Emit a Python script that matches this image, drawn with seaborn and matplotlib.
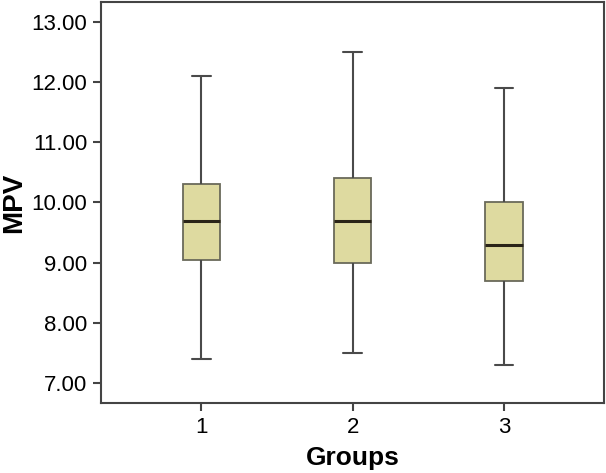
import matplotlib
matplotlib.use("Agg")
import matplotlib.pyplot as plt
import seaborn as sns
import pandas as pd

groups = ["1", "2", "3"]
g1 = [7.4, 9.05, 9.7, 10.3, 12.1]
g2 = [7.5, 9.0, 9.7, 10.4, 12.5]
g3 = [7.3, 8.7, 9.3, 10.0, 11.9]
yticks = [7, 8, 9, 10, 11, 12, 13]

df = pd.DataFrame({
    "Groups": [groups[0]] * len(g1) + [groups[1]] * len(g2) + [groups[2]] * len(g3),
    "MPV": g1 + g2 + g3,
})

sns.set_style("white")
plt.rcParams["font.family"] = ["Liberation Sans", "DejaVu Sans"]
plt.rcParams["text.color"] = "black"
plt.rcParams["axes.labelcolor"] = "black"

fig, ax = plt.subplots(figsize=(6.06, 4.73), dpi=100)
sns.boxplot(data=df, x="Groups", y="MPV", order=groups, whis=(0, 100), width=0.245,
            color="#DEDAA0", saturation=1, linecolor="#4a4a4a", linewidth=1.3,
            medianprops={"color": "#2a2418", "linewidth": 2.2},
            capprops={"color": "#4a4a4a", "linewidth": 1.5},
            whiskerprops={"color": "#4a4a4a", "linewidth": 1.5},
            boxprops={"edgecolor": "#6a6a5a", "linewidth": 1.3}, ax=ax)

ax.set_ylim(6.67, 13.33)
ax.set_xlim(-0.662, 2.662)
ax.set_yticks(yticks)
ax.set_yticklabels([f"{v:.2f}" for v in yticks], fontsize=16)
ax.set_xticks(range(len(groups)))
ax.set_xticklabels(groups, fontsize=16)
ax.set_xlabel("Groups", fontsize=19, fontweight="bold", labelpad=6)
ax.set_ylabel("MPV", fontsize=20, fontweight="bold", labelpad=3)
ax.tick_params(axis="both", length=6, width=1.5, color="#444444", labelcolor="black",
               direction="out", pad=4)
ax.tick_params(axis="x", bottom=True)
ax.tick_params(axis="y", left=True)
for sp in ax.spines.values():
    sp.set_visible(True)
    sp.set_color("#444444")
    sp.set_linewidth(1.5)

fig.subplots_adjust(left=0.167, right=0.997, top=0.996, bottom=0.148)
fig.savefig("out.png", dpi=100)
